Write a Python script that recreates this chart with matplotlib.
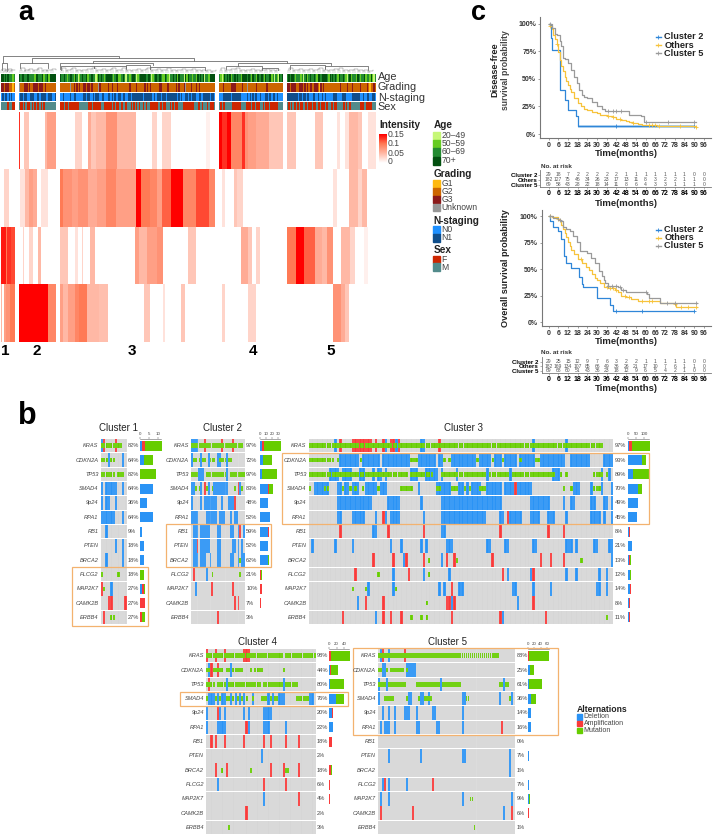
import numpy as np
import matplotlib
matplotlib.use('Agg')
import matplotlib.pyplot as plt
from matplotlib.colors import LinearSegmentedColormap, ListedColormap
from matplotlib.patches import Rectangle
from matplotlib.lines import Line2D

plt.rcParams['font.family'] = ['Liberation Sans', 'DejaVu Sans']

W, H = 714, 835

# ---- panel a data ----
cluster_sizes = [11, 29, 120, 50, 69]
cluster_spans = [(0.7, 14.7), (19, 56), (60.3, 215), (219.3, 283.3), (287.3, 376)]
cluster_numbers = ['1', '2', '3', '4', '5']
number_x = [5.7, 36.7, 132.3, 253.3, 330.3]

# heatmap columns as (value, samples) runs, one list per signature row
heat_c1 = [[(0, 11)],
           [(0, 2), (.03, 4), (0, 5)],
           [(.14, 4), (.1, 1), (.13, 3), (.12, 3)],
           [(.05, 1), (0, 1), (.07, 2), (.08, 3), (.1, 4)]]
heat_c2 = [[(.13, 1), (0, 3), (.04, 4), (0, 12), (.05, 2), (.07, 7)],
           [(0, 1), (.02, 4), (.05, 3), (.07, 3), (.06, 3), (0, 3), (.02, 6), (0, 6)],
           [(0, 3), (.03, 1), (0, 4), (.03, 3), (0, 4), (.05, 2), (0, 12)],
           [(.15, 23), (.09, 6)]]
heat_c3 = [[(0, 12), (.03, 5), (0, 5), (.06, 2), (.04, 4), (.05, 8), (.08, 8), (.05, 15), (0, 12), (.03, 4), (0, 4),
            (.03, 7), (0, 27), (.01, 3), (0, 4)],
           [(.1, 2), (.08, 7), (.07, 5), (.08, 8), (.06, 7), (.07, 7), (.09, 7), (.07, 16), (.15, 4), (.1, 7), (.09, 5),
            (.07, 4), (.11, 7), (.15, 9), (.09, 10), (.12, 10), (.09, 5)],
           [(.04, 6), (0, 6), (.02, 2), (0, 3), (.03, 1), (0, 5), (.05, 4), (0, 31), (.07, 3), (.05, 6), (.07, 8),
            (.08, 5), (0, 19), (.04, 6), (0, 15)],
           [(.07, 2), (.05, 4), (.07, 6), (.09, 3), (.1, 6), (.05, 9), (.045, 7), (0, 28), (.04, 5), (0, 10), (.02, 1),
            (0, 13), (.04, 3), (0, 23)]]
heat_c4 = [[(.15, 2), (.13, 4), (.15, 3), (.09, 9), (.13, 2), (.08, 3), (.07, 6), (.06, 10), (.04, 11)],
           [(0, 2), (.02, 3), (0, 7), (.04, 2), (.03, 5), (0, 31)],
           [(0, 17), (.06, 6), (.04, 3), (0, 3), (.03, 3), (0, 18)],
           [(0, 2), (.03, 3), (0, 18), (.03, 6), (0, 21)]]
heat_c5 = [[(.04, 7), (0, 15), (.04, 6), (0, 11), (.02, 2), (0, 4), (.02, 3), (.05, 7), (.04, 3), (0, 5), (.02, 6)],
           [(0, 36), (.02, 3), (0, 9), (.05, 7), (.03, 3), (.05, 4), (0, 7)],
           [(.1, 7), (.15, 6), (.11, 9), (.06, 5), (.05, 4), (.08, 5), (0, 6), (.05, 7), (.03, 4), (0, 7), (.01, 3), (0, 6)],
           [(0, 36), (.08, 6), (.06, 3), (.04, 3), (0, 21)]]
heat_rows = [heat_c1, heat_c2, heat_c3, heat_c4, heat_c5]

# annotation tracks, one character per sample
age_track = ['33232322212',
             '32332233222213322231223133333',
             '322321233213201232231223220132321233332123311232022123320'
             '123333223201232232113210223231322203132212213232302213333',
             '21013232312232322133332321322132232132233120210323',
             '2323321222120231232232133233332132323213223210231222132122312213102']
grade_track = ['33233322212',
               '42223332322333323332322222222',
               '22222224223232322332332322224322222322322232222222232222322222'
               '3232322222233222232222232322234222322232322222222222',
               '22232222233332222232224222222322222223222222222222',
               '3323333223332323233233321323222222222222322223222322222322223212232'
               ]
nstage_track = ['01011010100',
                '01101100011100110111100111001',
                '00100001001100000110110010111001000110101001101100110111111110'
                '1111110101110111011111110101001101011100110111110110',
                '00011111101111111000001010101100100011011011010000',
                '111111110110110100011001001010000011100001110000111111001001100110'
                ]
sex_track = ['MMMMMFMMMFF',
             'MFFMFMFFFMFMFMFFMFMFMMMMMMMMM',
             'FFFMFFMFFFFFFFMMMMMMMFFFMFFFFFFMMFFFFFFMFMFFMMFMMFMMMFMFMFMFMMFMFM'
             'MFFFFFFMMFMFFMMMFMFMFFMMMMFFFFFFFFMMMFFMFMMMFMFFFM',
             'MFMFFMMMMMFFFFFFFMMMMFFFFMFFMFFFMMFMFFFMFFFFFFMMMM',
             'MFMFMFFMFMFFMMFMFFFMFFMMFMFFFMFMMMFMFFMMMMMFMFMFFMMMMMMMFFFMFFFFFMMM']
age_labels = ['20–49', '50–59', '60–69', '70+']
grade_labels = ['G1', 'G2', 'G3', 'Unknown']
nstage_labels = ['N0', 'N1']
sex_labels = ['F', 'M']
track_names = ['Age', 'Grading', 'N-staging', 'Sex']

# dendrogram merges: left x, right x, height, left child height, right child height
tree_x1 = [3.3, 31.7, 93.3, 1.5, 20, 60.3, 238, 61, 94, 126, 150, 226, 262, 290, 325]
tree_x2 = [119.3, 194.3, 286.7, 6.5, 48, 153, 331, 94, 126, 150, 205, 262, 278, 325, 368]
tree_h = [17.3, 14.7, 12.3, 10.3, 9.7, 9.7, 9.7, 7, 7.5, 8, 6, 7.5, 5, 8, 7]
tree_l = [10.3, 9.7, 9.7, 3, 5, 4, 7.5, 3, 5, 5, 4, 4, 3, 4, 4]
tree_r = [14.7, 12.3, 9.7, 2, 5, 8, 8, 5, 4, 4, 3, 4, 3, 5, 3]
leaf_x = [1, 4, 7, 10, 20, 24, 28, 33, 37, 42, 46, 51, 61, 66, 71, 76, 81, 86, 91, 96, 101, 106, 111, 116, 121, 126,
          131, 136, 141, 146, 151, 156, 161, 166, 171, 176, 181, 186, 191, 196, 201, 206, 211, 220, 225, 230, 235,
          240, 245, 250, 255, 260, 265, 270, 275, 288, 293, 298, 303, 308, 313, 318, 323, 328, 333, 338, 343, 348,
          353, 358, 363, 368]
leaf_h = [9, 6, 10, 7, 11, 7, 10, 6, 12, 8, 6, 9, 11, 7, 12, 8, 6, 10, 13, 7, 9, 6, 12, 8, 11, 7, 6, 10, 8, 12, 7, 9,
          6, 11, 8, 6, 10, 7, 9, 6, 8, 6, 5, 11, 7, 9, 12, 6, 8, 10, 7, 6, 9, 8, 6, 11, 7, 9, 6, 10, 8, 12, 7, 6, 9,
          11, 8, 6, 10, 7, 6, 5]

# ---- panel b data ----
genes = ['KRAS', 'CDKN2A', 'TP53', 'SMAD4', '9p24', 'RPA1', 'RB1', 'PTEN', 'BRCA2', 'PLCG2', 'MAP2K7', 'CAMK2B', 'ERBB4']
onco_titles = ['Cluster 1', 'Cluster 2', 'Cluster 3', 'Cluster 4', 'Cluster 5']

c1_pct = [82, 64, 82, 64, 36, 64, 9, 18, 18, 18, 27, 27, 27]
c2_pct = [97, 72, 97, 83, 48, 52, 59, 52, 62, 21, 10, 7, 3]
c3_pct = [97, 93, 89, 70, 49, 45, 8, 21, 13, 12, 14, 8, 11]
c4_pct = [98, 44, 80, 76, 20, 22, 18, 2, 18, 6, 4, 2, 3]
c5_pct = [88, 25, 61, 36, 14, 16, 0, 7, 1, 7, 9, 6, 1]

# sample indices per gene for each alteration: deletion, amplification, mutation
c1_del = ['0', '3 9', '', '0 2-6 9', '0 2 3 6', '0-5 9', '2', '6 9', '2 9', '', '4', '', '']
c1_amp = ['1 6', '', '', '', '', '', '', '', '', '', '0', '3 4 10', '1']
c1_mut = ['0-8', '0 1 2 4 5', '0-5 7-9', '', '', '', '', '', '', '0 7', '1', '', '4 5']

c2_del = ['0-3', '0 5 9 14 15 19', '4-6 19', '0 1 5 9 12-19 26', '0 5 7-13 16 20-22', '0-3 8-13 15-17 21 23 24',
          '1-3 5-9 14 15 21 22 25 28', '1 2 5-9 14 15 22 23 25 27', '1-3 5 6 7 10 14 15 21 22 25 27 28', '8', '2', '', '']
c2_amp = ['7 16 22', '', '', '7 25', '23', '', '26', '3', '', '1', '11 22', '23 25', '14']
c2_mut = ['0-27', '1 2 4 6 7 10 11 12 15 16 17 18 20 21', '0-3 8-18 21-28', '2 4 8 11 23 27', '', '', '', '', '26',
          '11 26', '', '', '']

c3_del = ['10 30 34 44 45 88 101',
          '12-19 21-27 29-39 43-49 51 52 56-65 67-71 73-75 77-81 83-88 91-95 96-99 100 103-110 116-119',
          '8-11 13-16 20 21 25 27 28 30 40-42 46-50 52 58 70 79 96-98 115 118',
          '2-6 7 11 12 14 15 17-19 22-26 28-30 43 50 51 52-55 59 60 62 64-67 70-75 77-80 81-87 104-106 111 115 119',
          '11-24 31-35 44 52-75 87-94 100 103 104 111 112 116 117 119',
          '11 12 17-21 26 30 32-35 45 52-69 75 76 79-83 87-90 94-96 101 111-114 116 119',
          '25 26 52 53',
          '1 10 17 32 36 44 46 54-56 70 71 77 78 88 89 101-103 105 112 113 118 119',
          '37 52 119',
          '33 45 55 78 87 101 105 114 117',
          '23 33 51 53 59 60 80 81 88 95 113 114 117',
          '19 56 82',
          '26 76']
c3_amp = ['12 17-20 21-24 26 29 32 33 35 51', '', '', '81', '', '29 78', '12 31 45 75 94 100',
          '', '25 33 38 45 54 57 72 91 95 100', '18 39 76 88', '56', '22 29 54 55 57 88',
          '13 29 32 36 56 75 93']
c3_mut = ['0-115',
          '0-9 11 20 40-42 53 55 66 72 76 83 89 90',
          '0-38 40-42 43-48 52-57 58-69 71-78 80-96 99 101 112-115 117',
          '0 6 7 13 16 18 21 27 36-40 50 51 56-58 61 63 67-69 100 103 112-114',
          '', '', '', '', '47 58 107', '27 47', '17 22 34', '46', '40 44 46 117']

c4_del = ['', '1 11', '9 35', '1-3 5 7 8 11 13 15 17 21 28 30 33-35 47 48', '0 6 8 17 19 26-29', '0 5-8 19 26-28 36',
          '', '25', '', '5', '26', '', '']
c4_amp = ['0 4 8 17-19', '2 5', '1', '', '5', '18', '2 4 8 17 26 29 36 42', '', '4 9 29 35 42', '26 36', '42', '18', '']
c4_mut = ['0-34 36-49', '0 1 3-5 6 7 9 10 12-16 20 22-25 35', '0-3 5-8 10-24 26-34 36-41',
          '0 4 6 9 10 12 14 16 18 21 25-27 29 31 32 41-46', '', '', '', '', '7 20 36 37', '', '', '', '10']

c5_del = ['1 5', '2 3 14-18', '0 4 31 63', '0 15 16 21 22 25 42 43 61 67', '2 5 8 13-15 19 27 28 42',
          '1 3-5 8 19 20 29 30 42', '', '5 21 42 43 66', '66', '2 5 14', '1 5 42 67', '63', '']
c5_amp = ['2 13', '', '', '', '', '62', '', '', '', '3 27', '', '1 17 67', '']
c5_mut = ['0-60', '0 1 4 6-12 14', '0-3 5-13 19-30 32-41 61 62 64 65', '3-7 14 20 23-26 44 45 66', '', '', '', '', '', '',
          '46 47', '', '48']

onco_del = [c1_del, c2_del, c3_del, c4_del, c5_del]
onco_amp = [c1_amp, c2_amp, c3_amp, c4_amp, c5_amp]
onco_mut = [c1_mut, c2_mut, c3_mut, c4_mut, c5_mut]
onco_pct = [c1_pct, c2_pct, c3_pct, c4_pct, c5_pct]
bar_ticks = [[0, 5, 10], [0, 10, 20, 30], [0, 50, 100], [0, 20, 40], [0, 20, 40, 60]]
bar_max = [11.5, 32.6, 130, 53, 64]
alt_names = ['Deletion', 'Amplification', 'Mutation']

# ---- panel c data ----
dfs_months = {
    'Cluster 2': [0, 1.5, 2, 4, 7, 9.5, 10.5, 12, 16, 17, 18, 90],
    'Others': [0, 1, 2, 3, 4, 5, 6, 7, 8, 9, 10, 11, 12, 13, 14, 16, 18, 20, 22, 24, 27, 30, 32, 36, 40, 42, 45, 48, 50,
               52, 55, 58, 62, 67, 91],
    'Cluster 5': [0, 2, 4, 5, 7, 8, 9, 10, 12, 14, 16, 17.5, 19, 20.5, 22, 24, 27, 30, 33, 35, 47, 50, 57, 59, 91],
}
dfs_surv = {
    'Cluster 2': [100, 87, 76, 76, 40, 40, 31, 22, 22, 16, 7, 7],
    'Others': [100, 98, 95, 90, 86, 82, 74, 67, 62, 57, 52, 48, 44, 41, 38, 33, 28, 25, 23, 22, 20, 19, 17, 16, 15, 14,
               13, 12, 11, 10, 9, 8, 8, 7, 6.5],
    'Cluster 5': [100, 96, 91, 90, 84, 80, 69, 68, 64, 58, 52, 46, 40, 35, 34, 33, 29, 25, 23, 21, 21, 17, 16, 11, 11],
}
os_months = {
    'Cluster 2': [0, 1, 2.5, 6, 8, 9.7, 11, 13.6, 17.4, 18.8, 20.5, 21.5, 26.7, 30, 37, 38, 40, 90],
    'Others': [0, 2, 4, 6, 7, 8, 9, 10, 11, 12, 13, 14, 16, 18, 20.5, 23, 25, 27, 29, 30, 32, 34, 37, 41, 43, 45, 48,
               51, 55, 67, 69, 78, 79, 92],
    'Cluster 5': [0, 3, 6, 8, 9, 11, 13, 15, 17.4, 19.4, 23.5, 26, 28.7, 31, 33, 34, 35, 37, 43, 45, 48, 61, 62, 68, 69,
                  92],
}
os_surv = {
    'Cluster 2': [100, 95, 90, 86, 78, 62, 56, 51, 51, 43, 36, 33, 33, 22.5, 22.5, 16, 11, 11],
    'Others': [100, 99, 99, 97, 95, 92, 88, 84, 80, 76, 72, 68, 64, 60, 56, 52, 49, 45, 42, 40, 37, 33, 32, 30, 28, 25,
               24, 21.5, 20, 20, 18, 17, 14, 14],
    'Cluster 5': [100, 98, 96, 95, 90, 88, 86, 81, 76, 67, 65, 61, 56, 48, 44, 40, 37, 34, 33, 30, 28, 26.6, 22.5, 22.5,
                  18, 18],
}
dfs_censor = {'Cluster 2': [42, 90], 'Others': [1, 5, 37, 40, 44, 52, 62, 64, 66, 68, 81, 91],
              'Cluster 5': [1, 37, 40, 42, 45, 60, 74, 90]}
os_censor = {'Cluster 2': [42, 58, 90], 'Others': [1, 6, 20, 36, 38, 40, 42, 47, 50, 58, 62, 64, 78, 82, 86, 91],
             'Cluster 5': [1, 7, 37, 39, 42, 44, 46, 60, 73, 78, 91]}
curve_names = ['Cluster 2', 'Others', 'Cluster 5']
curve_colors = {'Cluster 2': '#2f86d8', 'Others': '#f7c33c', 'Cluster 5': '#9a9a9a'}
month_ticks = list(range(0, 97, 6))
dfs_risk = {'Cluster 2': [29, 18, 7, 2, 2, 2, 2, 2, 1, 1, 1, 1, 1, 1, 1, 0, 0],
            'Others': [182, 127, 75, 46, 34, 26, 23, 17, 13, 11, 8, 3, 2, 2, 1, 1, 0],
            'Cluster 5': [69, 58, 43, 28, 22, 18, 14, 11, 8, 6, 4, 3, 3, 1, 1, 1, 0]}
os_risk = {'Cluster 2': [29, 25, 15, 12, 9, 7, 6, 3, 2, 2, 1, 1, 1, 1, 1, 0, 0],
           'Others': [182, 169, 134, 107, 85, 66, 49, 36, 26, 21, 17, 10, 7, 6, 1, 1, 0],
           'Cluster 5': [69, 68, 60, 51, 43, 36, 23, 18, 12, 9, 6, 5, 4, 2, 1, 0, 0]}

age_colors = ['#c6f777', '#66cc22', '#228b30', '#02500f']
grade_colors = ['#ffb90f', '#cd6600', '#8b1a1a', '#969696']
nstage_colors = ['#1e90ff', '#104e8b']
sex_colors = ['#cd2600', '#528b8b']
alt_colors = ['#2a93f5', '#f93a3a', '#66cd00']
heat_cmap = LinearSegmentedColormap.from_list('heat', [(0, '#ffffff'), (1 / 3, '#ffb8a5'), (2 / 3, '#ff7a55'), (1, '#ff0000')])

fig = plt.figure(figsize=(W / 100, H / 100), dpi=100)


def box(x0, y0, x1, y1):
    # axes from pixel corners, y measured from the top of the picture
    ax = fig.add_axes([x0 / W, 1 - y1 / H, (x1 - x0) / W, (y1 - y0) / H])
    return ax


def txt(x, y, s, **kw):
    kw.setdefault('va', 'center')
    fig.text(x / W, 1 - y / H, s, **kw)


def expand(runs, n):
    vals = np.repeat([r[0] for r in runs], [r[1] for r in runs])
    return np.resize(np.append(vals, np.zeros(max(0, n - len(vals)))), n)


def parse(spec):
    out = []
    for part in spec.split():
        if '-' in part:
            a, b = part.split('-')
            out.extend(range(int(a), int(b) + 1))
        else:
            out.append(int(part))
    return out


def legend_block(title, labels, colors, title_y, ys):
    txt(433.3, title_y, title, fontsize=7.2, fontweight='bold', color='#222222')
    for lab, col, y in zip(labels, colors, ys):
        fig.patches.append(Rectangle((433.3 / W, 1 - (y + 4) / H), 6.7 / W, 7.6 / H, color=col,
                                     transform=fig.transFigure))
        txt(441.7, y, lab, fontsize=6.2, color='#444444')


# ---- panel a ----
for i, (span, n) in enumerate(zip(cluster_spans, cluster_sizes)):
    ax = box(span[0], 112, span[1], 342)
    mat = np.array([expand(r, n) for r in heat_rows[i]])
    ax.imshow(mat, cmap=heat_cmap, vmin=0, vmax=.15, aspect='auto', interpolation='nearest')
    ax.axis('off')
    txt(number_x[i], 350.7, cluster_numbers[i], fontsize=11, fontweight='bold', ha='center')

    tracks = [(age_track[i], '0123', age_colors, 74, 82.2),
              (grade_track[i], '1234', grade_colors, 83.3, 91.7),
              (nstage_track[i], '01', nstage_colors, 92.5, 100.7),
              (sex_track[i], 'FM', sex_colors, 101.7, 110)]
    for s, keys, cols, y0, y1 in tracks:
        tr = box(span[0], y0, span[1], y1)
        codes = np.array([[keys.index(ch) for ch in s]])
        tr.imshow(codes, cmap=ListedColormap(cols), vmin=0, vmax=len(cols) - 1, aspect='auto', interpolation='nearest')
        tr.axis('off')

for name, y in zip(track_names, [77.3, 87.3, 97.7, 106.7]):
    txt(377.7, y, name, fontsize=7.8, color='#333333')

tree = box(0, 52, 376, 73)
tree.set_xlim(0, 376)
tree.set_ylim(0, 21)
tree.axis('off')
for x1, x2, h, l, r in zip(tree_x1, tree_x2, tree_h, tree_l, tree_r):
    tree.plot([x1, x1, x2, x2], [l, h, h, r], color='#6e6e6e', lw=.6)
for k, (x, h) in enumerate(zip(leaf_x, leaf_h)):
    tree.plot([x, x, x + 2.4, x + 2.4], [0, h * .3, h * .3, 0], color='#a0a0a0', lw=.3)
    tree.plot([x + 1.2, x + 1.2, x + 5, x + 5], [h * .3, h * .42, h * .42, (leaf_h[(k + 1) % len(leaf_h)]) * .3],
              color='#808080', lw=.35)

txt(379.3, 125, 'Intensity', fontsize=7.2, fontweight='bold', color='#222222')
cb = box(379.3, 134, 386.7, 163)
cb.imshow(np.linspace(.15, 0, 60)[:, None], cmap=heat_cmap, vmin=0, vmax=.15, aspect='auto')
cb.axis('off')
for lab, y in zip(['0.15', '0.1', '0.05', '0'], [134.3, 143.7, 153, 162]):
    txt(387.7, y, lab, fontsize=6.2, color='#444444')

legend_block('Age', age_labels, age_colors, 125.3, [136, 144, 152, 160.7])
legend_block('Grading', grade_labels, grade_colors, 173.7, [183.7, 191.7, 199.3, 207.3])
legend_block('N-staging', nstage_labels, nstage_colors, 220.7, [230, 238])
legend_block('Sex', sex_labels, sex_colors, 250.3, [259.3, 267])

txt(18, 19.5, 'a', fontsize=19.5, fontweight='bold', va='baseline')
txt(18, 424, 'b', fontsize=22, fontweight='bold', va='baseline')
txt(471, 19.5, 'c', fontsize=19.5, fontweight='bold', va='baseline')

# ---- panel b ----
onco_x = [(100.7, 126.7), (191, 245), (308.7, 613.3), (206, 315.7), (378, 515.3)]
onco_y = [(438.6, 624.6), (438.6, 624.6), (438.6, 624.6), (648.6, 834.6), (648.6, 834.6)]
bar_x = [(140, 161), (259.7, 280), (628.3, 649), (329, 349), (527.7, 548.7)]
title_pos = [(118.7, 428), (222.7, 428), (463, 428), (258, 641.7), (447, 641.7)]

for i, n in enumerate(cluster_sizes):
    x0, x1 = onco_x[i]
    y0, y1 = onco_y[i]
    ax = box(x0, y0, x1, y1)
    ax.set_xlim(0, n)
    ax.set_ylim(13, 0)
    ax.axis('off')
    counts = np.zeros((13, 3))
    for r in range(13):
        ax.broken_barh([(0, n)], (r + .03, .94), color='#d6d6d6', lw=0)
        ax.vlines(np.arange(n + 1), r + .03, r + .97, color='white', alpha=.4, lw=.3)
        dels, amps, muts = parse(onco_del[i][r]), parse(onco_amp[i][r]), parse(onco_mut[i][r])
        counts[r] = [len(dels), len(amps), len(muts)]
        ax.broken_barh([(s, 1) for s in dels], (r + .03, .94), color=alt_colors[0], lw=0)
        ax.broken_barh([(s, 1) for s in amps], (r + .03, .94), color=alt_colors[1], lw=0)
        ax.broken_barh([(s + .04, .92) for s in muts], (r + .34, .32), color=alt_colors[2], lw=0)
        ym = y0 + (r + .5) * (y1 - y0) / 13
        txt(x0 - 2, ym, genes[r], fontsize=4.1, style='italic', ha='right', color='#444444')
        txt(x1 + 1.2, ym, '%d%%' % onco_pct[i][r], fontsize=4.1, color='#444444')
    txt(title_pos[i][0], title_pos[i][1], onco_titles[i], fontsize=7, ha='center', color='#222222')

    bx = box(bar_x[i][0], y0, bar_x[i][1], y1)
    left = np.zeros(13)
    for k in range(3):
        bx.barh(np.arange(13) + .5, counts[:, k], left=left, height=.7, color=alt_colors[k], lw=0, clip_on=False)
        left += counts[:, k]
    bx.set_xlim(0, bar_max[i])
    bx.set_ylim(13, 0)
    bx.patch.set_alpha(0)
    for sp in ['left', 'right', 'bottom']:
        bx.spines[sp].set_visible(False)
    bx.spines['top'].set_linewidth(.4)
    bx.spines['top'].set_color('#666666')
    bx.set_yticks([])
    bx.set_xticks(bar_ticks[i])
    bx.xaxis.tick_top()
    bx.tick_params(axis='x', labelsize=3.2, length=1.2, width=.3, pad=.4, colors='#444444')

# orange highlight boxes
boxes = [(72, 566.7, 148.3, 626), (166.3, 524, 270.7, 567.3), (281.7, 453, 649.3, 524), (180, 692, 348.3, 706),
         (353.3, 648.3, 558.3, 735)]
for b in boxes:
    fig.patches.append(Rectangle((b[0] / W, 1 - b[3] / H), (b[2] - b[0]) / W, (b[3] - b[1]) / H, fill=False,
                                 ec='#f3b26f', lw=.9, transform=fig.transFigure))

txt(577, 709.3, 'Alternations', fontsize=6.2, fontweight='bold', color='#222222')
for name, col, y in zip(alt_names, alt_colors, [717, 723.7, 730.3]):
    fig.patches.append(Rectangle((576.7 / W, 1 - (y + 2.6) / H), 5.3 / W, 5.2 / H, color=col, transform=fig.transFigure))
    txt(583.7, y, name, fontsize=5, color='#444444')


# ---- panel c ----
def curve_value(ts, ss, t):
    return ss[max(0, np.searchsorted(ts, t, side='right') - 1)]


def survival(top, bottom, x_left, months, surv, censor, legend_ys, table_box, risk):
    ax = box(x_left, top, 711, bottom)
    px_per_month = 155.4 / 96
    ax.set_xlim((x_left - 548.5) / px_per_month, (711 - 548.5) / px_per_month)
    ax.set_ylim(-3.6, 105.8)
    if top < 100:
        ax.fill_between([18, 90], 5.8, 8, color='#bcd9f2', lw=0, zorder=0)
    for name in curve_names:
        col = curve_colors[name]
        ax.step(months[name], surv[name], where='post', color=col, lw=.9)
        cy = [curve_value(months[name], surv[name], t) for t in censor[name]]
        ax.plot(censor[name], cy, '+', color=col, ms=3, mew=.6)
    for sp in ['top', 'right']:
        ax.spines[sp].set_visible(False)
    for sp in ['left', 'bottom']:
        ax.spines[sp].set_color('#777777')
        ax.spines[sp].set_linewidth(.8)
    ax.set_xticks(month_ticks)
    ax.set_yticks([0, 25, 50, 75, 100])
    ax.set_yticklabels(['0%', '25%', '50%', '75%', '100%'])
    ax.tick_params(labelsize=5, length=1.5, width=.5, pad=1.5, color='#777777', labelcolor='#333333')
    for t in ax.get_xticklabels() + ax.get_yticklabels():
        t.set_fontweight('bold')
    for n, y in zip(curve_names, legend_ys):
        fig.add_artist(Line2D([655.5 / W, 660.5 / W], [1 - y / H, 1 - y / H], color=curve_colors[n], lw=1))
        fig.add_artist(Line2D([658 / W], [1 - y / H], color=curve_colors[n], marker='+', ms=3, mew=.6))
        txt(664.5, y, n, fontsize=6.6, fontweight='bold', color='#222222')

    t0, t1 = table_box
    tb = box(x_left, t0, 711, t1)
    tb.set_xlim(ax.get_xlim())
    tb.set_ylim(3.47, 0)
    for r, name in enumerate(curve_names):
        for m, v in zip(month_ticks, risk[name]):
            tb.text(m, r + 1, str(v), fontsize=3.6, ha='center', va='center', color='#555555')
    for sp in ['top', 'right']:
        tb.spines[sp].set_visible(False)
    for sp in ['left', 'bottom']:
        tb.spines[sp].set_color('#777777')
        tb.spines[sp].set_linewidth(.6)
    tb.set_xticks(month_ticks)
    tb.set_yticks([1, 2, 3])
    tb.set_yticklabels(curve_names)
    tb.tick_params(axis='x', labelsize=5, length=1.2, width=.4, pad=1, color='#777777')
    tb.tick_params(axis='y', labelsize=4.4, length=1.2, width=.4, pad=1, color='#777777')
    for t in tb.get_xticklabels() + tb.get_yticklabels():
        t.set_fontweight('bold')


survival(17.3, 138, 540.3, dfs_months, dfs_surv, dfs_censor, [36.7, 45, 53.3], (169.9, 187.3), dfs_risk)
survival(210, 326, 541.7, os_months, os_surv, os_censor, [229.7, 237.7, 245.7], (357, 372.7), os_risk)

txt(494.7, 70, 'Disease-free', fontsize=6.6, fontweight='bold', rotation=90, ha='center', color='#222222')
txt(505, 70, 'survival probability', fontsize=6.2, rotation=90, ha='center', fontweight='bold', color='#444444')
txt(506, 268, 'Overall survival probability', fontsize=6.6, fontweight='bold', rotation=90, ha='center', color='#222222')
for y in [154, 203.5, 341, 388]:
    txt(626.5, y, 'Time(months)', fontsize=6.8, fontweight='bold', ha='center', color='#222222')
txt(540.7, 166, 'No. at risk', fontsize=4.6, fontweight='bold', color='#333333')
txt(540.7, 352, 'No. at risk', fontsize=4.6, fontweight='bold', color='#333333')

fig.savefig('out.png', dpi=100)
